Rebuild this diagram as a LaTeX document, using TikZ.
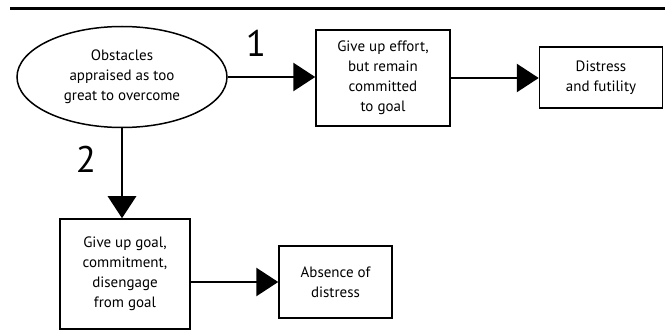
\documentclass[tikz,border=0pt]{standalone}
\usepackage{fontspec}
\setmainfont{PT Sans}
\usetikzlibrary{arrows.meta, positioning, shapes.geometric}

\begin{document}
\begin{tikzpicture}[x=1pt,y=1pt,
    box/.style={draw,line width=1.5pt,align=center,inner sep=0pt,
      font=\fontsize{15}{20}\selectfont},
    big/.style={font=\fontsize{37}{37}\selectfont},
    arr/.style={line width=2.8pt,-{Triangle[length=22pt,width=28pt]}}]
    \useasboundingbox (0,0) rectangle (665,330);
    \draw[line width=3pt] (10,321)--(665,321);
    \node[box,ellipse,minimum width=210,minimum height=101]
      (obst) at (122,253) {Obstacles\\appraised as too\\great to overcome};
    \node[box,minimum width=134,minimum height=96]
      (effort) at (383,252) {Give up effort,\\but remain\\committed\\to goal};
    \node[box,minimum width=123,minimum height=61]
      (futil) at (601,252.5) {Distress\\and futility};
    \node[box,minimum width=130,minimum height=110]
      (goal) at (125,56) {Give up goal,\\commitment,\\disengage\\from goal};
    \node[box,minimum width=113,minimum height=72]
      (absent) at (335.5,48) {Absence of\\distress};
    \node[big] (one) at (256,287) {1};
    \node[big] (two) at (86,171) {2};
    % branches
    \draw[arr] (obst.east)--(obst.east -| effort.west);
    \draw[arr] (effort.east)--(effort.east -| futil.west);
    \draw[arr] (obst.south)--(obst.south |- goal.north);
    \draw[arr] (goal.east |- absent.west)--(absent.west);
\end{tikzpicture}
\end{document}
